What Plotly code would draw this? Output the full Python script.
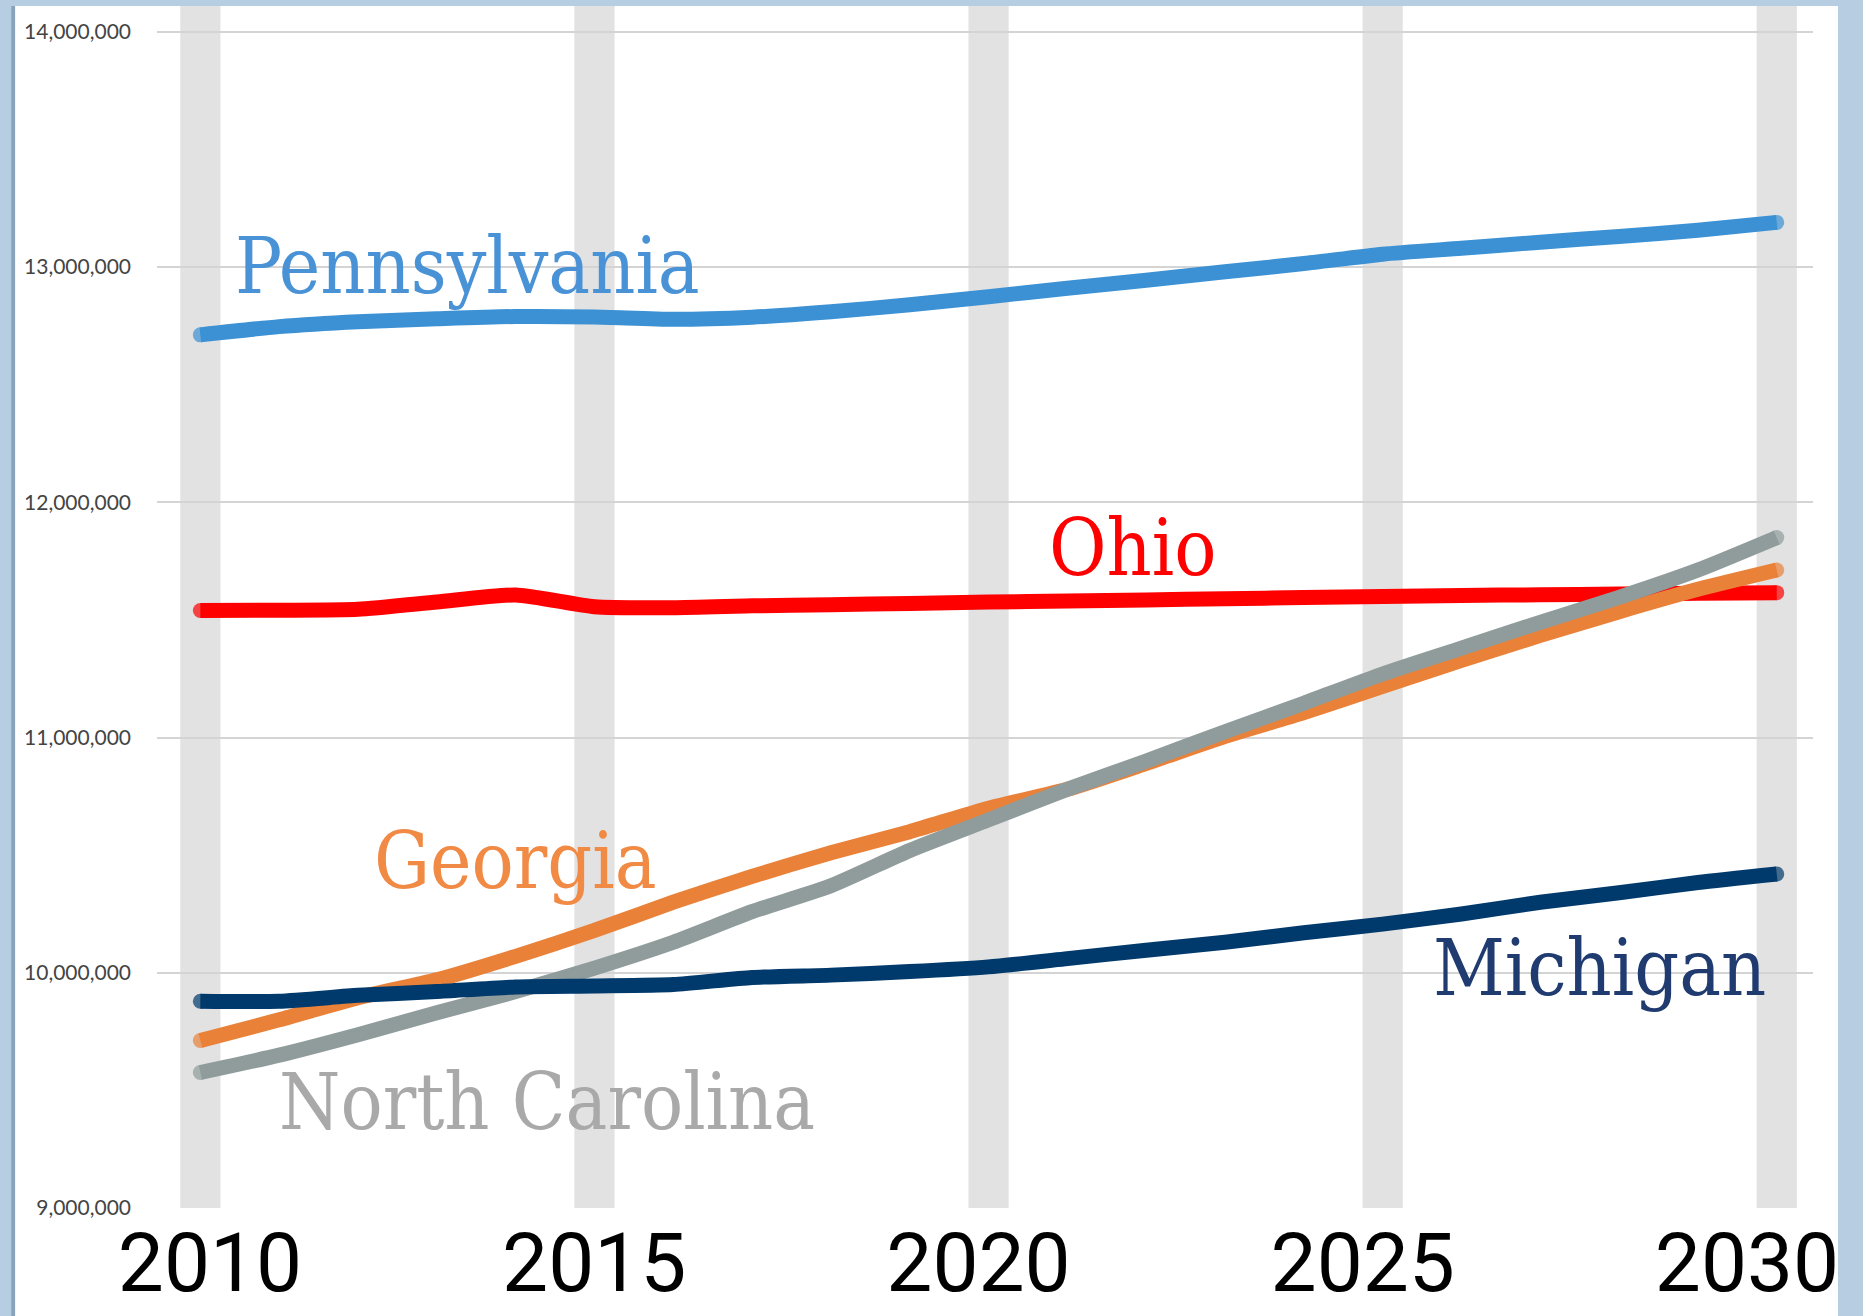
import plotly.graph_objects as go

years = list(range(2010, 2031))

pennsylvania = [12.712, 12.747, 12.768, 12.780, 12.790, 12.788, 12.778, 12.787, 12.810, 12.840,
                12.874, 12.910, 12.944, 12.980, 13.015, 13.055, 13.080, 13.106, 13.130, 13.157, 13.190]
ohio = [11.540, 11.541, 11.545, 11.576, 11.606, 11.556, 11.552, 11.560, 11.565, 11.570,
        11.576, 11.580, 11.585, 11.590, 11.595, 11.600, 11.604, 11.607, 11.610, 11.613, 11.616]
georgia = [9.712, 9.800, 9.894, 9.970, 10.070, 10.180, 10.300, 10.410, 10.510, 10.600,
           10.700, 10.780, 10.890, 11.005, 11.106, 11.217, 11.328, 11.434, 11.535, 11.630, 11.712]
north_carolina = [9.576, 9.650, 9.737, 9.830, 9.920, 10.020, 10.130, 10.260, 10.370, 10.520,
                  10.650, 10.780, 10.900, 11.025, 11.146, 11.270, 11.380, 11.490, 11.596, 11.712, 11.850]
michigan = [9.879, 9.879, 9.904, 9.920, 9.940, 9.944, 9.950, 9.980, 9.990, 10.005,
            10.025, 10.060, 10.096, 10.130, 10.170, 10.207, 10.250, 10.300, 10.340, 10.384, 10.420]

series_names = ["Pennsylvania", "Ohio", "Georgia", "North Carolina", "Michigan"]
series_values = [pennsylvania, ohio, georgia, north_carolina, michigan]
line_colors = ["#3b91d4", "#fe0000", "#ea8138", "#8f9c9b", "#00396b"]
label_colors = ["#4a92d6", "#fe0000", "#f08a44", "#a9a9a9", "#1f3b6f"]
label_x = [2010.41, 2020.74, 2012.18, 2010.97, 2025.61]
label_y = [13.005e6, 11.806e6, 10.475e6, 9.45e6, 10.02e6]

band_years = [2010, 2015, 2020, 2025, 2030]
x_tick_text = ["2010", "2015", "2020", "2025", "2030"]
y_ticks = [9e6, 10e6, 11e6, 12e6, 13e6, 14e6]
y_tick_text = ["9,000,000", "10,000,000", "11,000,000", "12,000,000", "13,000,000", "14,000,000"]

fig = go.Figure()

n = len(years)
for name, vals, col in zip(series_names, series_values, line_colors):
    fig.add_trace(go.Scatter(
        x=years, y=[v * 1e6 for v in vals], name=name,
        mode="lines+markers",
        line=dict(color=col, width=15, shape="spline", smoothing=0.6),
        marker=dict(color=col, size=[15] + [0] * (n - 2) + [15], line=dict(width=0)),
        showlegend=False, hoverinfo="x+y+name",
    ))

# empty trace so the label axis (x2) is drawn
fig.add_trace(go.Scatter(x=[], y=[], xaxis="x2", yaxis="y", showlegend=False, hoverinfo="skip"))

shapes = []
# white panel
shapes.append(dict(type="rect", xref="paper", yref="paper", x0=-0.0857, x1=1.0151, y0=-0.2, y1=1.0,
                   fillcolor="white", line=dict(width=0), layer="below"))
# dark left edge of panel
shapes.append(dict(type="rect", xref="paper", yref="paper", x0=-0.0880, x1=-0.0857, y0=-0.2, y1=1.0,
                   fillcolor="#8aa3bd", line=dict(width=0), layer="below"))
for yr in band_years:
    shapes.append(dict(type="rect", xref="x", yref="y", x0=yr - 0.255, x1=yr + 0.255,
                       y0=9e6, y1=14.11e6, fillcolor="#e2e2e2", line=dict(width=0), layer="below"))

annotations = []
for name, col, lx, ly in zip(series_names, label_colors, label_x, label_y):
    annotations.append(dict(x=lx, y=ly, xref="x", yref="y", text=name, showarrow=False,
                            xanchor="left", yanchor="middle",
                            font=dict(family="DejaVu Serif Condensed, DejaVu Serif, serif", size=78, color=col)))

fig.update_layout(
    width=1863, height=1316,
    margin=dict(l=157, r=50, t=6, b=108),
    paper_bgcolor="#b7cde2",
    plot_bgcolor="white",
    shapes=shapes,
    annotations=annotations,
    xaxis=dict(range=[2009.45, 2030.46], tickvals=band_years, showticklabels=False,
               showgrid=False, zeroline=False, showline=False, ticks="", automargin=False),
    xaxis2=dict(overlaying="x", side="bottom", anchor="y", range=[2009.31, 2030.859],
                tickvals=band_years, ticktext=x_tick_text,
                showgrid=False, zeroline=False, showline=False, ticks="", automargin=False,
                tickfont=dict(family="Liberation Sans Narrow, Roboto, Arial, sans-serif", size=82, color="black"),
                ticklabelstandoff=0, ticklabeloverflow="allow"),
    yaxis=dict(range=[9e6, 14.11e6], tickvals=y_ticks, ticktext=y_tick_text,
               showgrid=True, gridcolor="#d4d4d4", gridwidth=2, zeroline=False, showline=False, ticks="",
               tickfont=dict(family="Lato, Carlito, sans-serif", size=21, color="#444444"),
               ticklabelstandoff=25, automargin=False),
)

fig.write_html("out.html", config={"displayModeBar": False},
               post_script="document.body.style.margin='0';document.body.style.background='#b7cde2';")
